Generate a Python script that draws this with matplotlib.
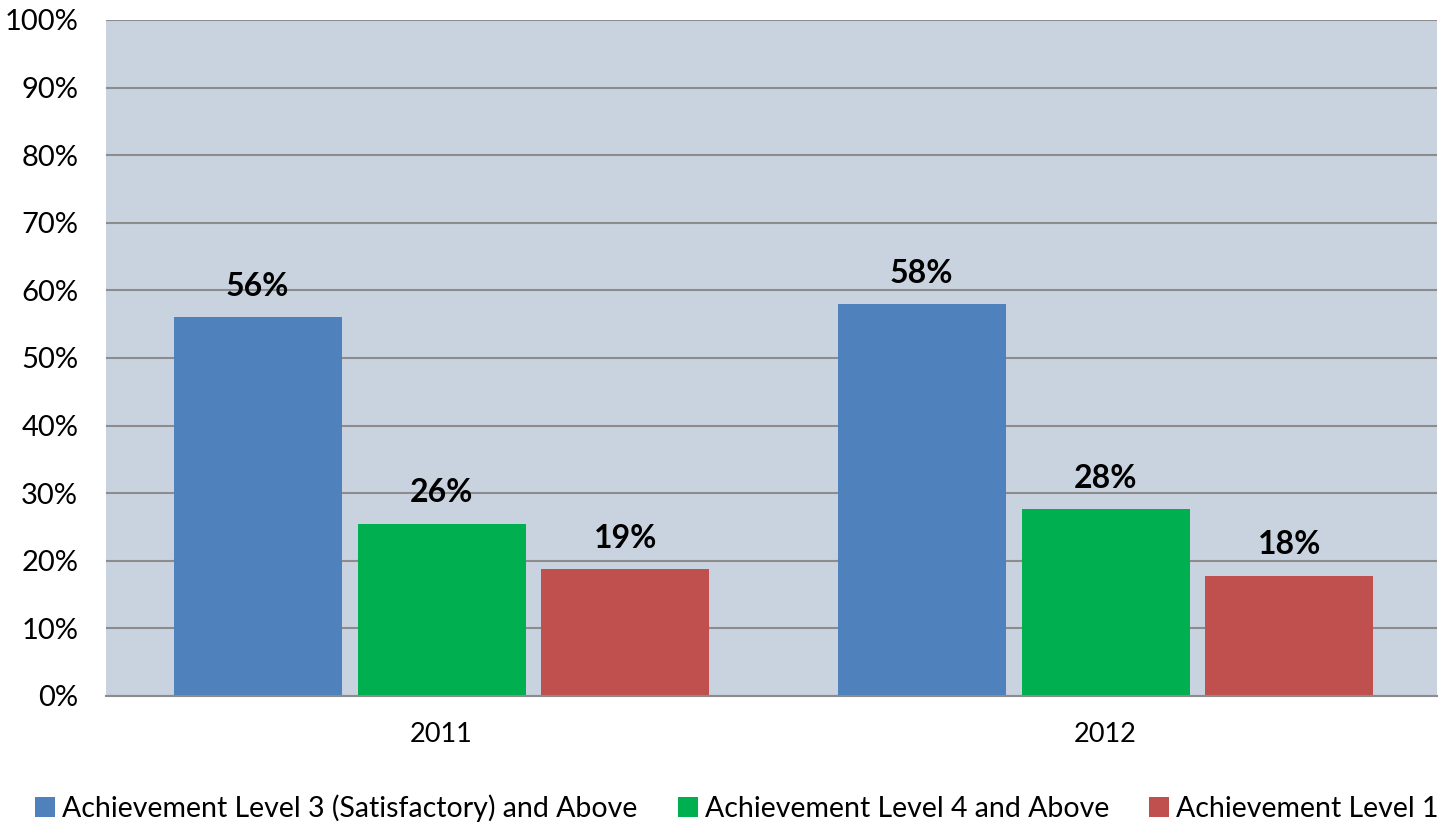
import matplotlib
matplotlib.use("Agg")
import matplotlib.pyplot as plt
import numpy as np

plt.rcParams['font.family'] = ['Lato', 'DejaVu Sans']

years = ["2011", "2012"]
series_names = ["Achievement Level 3 (Satisfactory) and Above",
                "Achievement Level 4 and Above",
                "Achievement Level 1"]
level3 = [56.1, 58.0]
level4 = [25.5, 27.7]
level1 = [18.8, 17.8]
labels3 = ["56%", "58%"]
labels4 = ["26%", "28%"]
labels1 = ["19%", "18%"]
colors = ["#4F81BD", "#00B050", "#C0504D"]

fig = plt.figure(figsize=(14.42, 8.32), dpi=100)
ax = fig.add_axes([106/1442, 1 - 696/832, (1437-106)/1442, (696-20)/832])
ax.set_facecolor("#C9D3DF")

x = np.arange(len(years))
step = 0.277
width = 0.253
data = [level3, level4, level1]
labs = [labels3, labels4, labels1]
handles = []
for i, (vals, lab, c, name) in enumerate(zip(data, labs, colors, series_names)):
    pos = x + (i - 1) * step
    b = ax.bar(pos, vals, width=width, color=c, zorder=3, label=name)
    handles.append(b)
    for p, v, t in zip(pos, vals, lab):
        ax.text(p, v + 2.4, t, ha="center", va="bottom", fontsize=23,
                fontweight="bold", color="black", zorder=4)

ax.set_xlim(-0.5053, 1.4992)
ax.set_ylim(0, 100)
ax.set_yticks(np.arange(0, 101, 10))
ax.set_yticklabels([f"{v}%" for v in range(0, 101, 10)], fontsize=21)
ax.set_xticks(x)
ax.set_xticklabels(years, fontsize=19.5)
ax.tick_params(axis="both", length=0)
ax.tick_params(axis="y", pad=20)
ax.tick_params(axis="x", pad=19)
ax.yaxis.grid(True, color="#8C8C8C", linewidth=1.5, zorder=0)
ax.set_axisbelow(True)
for s in ["left", "right", "top"]:
    ax.spines[s].set_visible(False)
ax.spines["bottom"].set_color("#8C8C8C")
ax.spines["bottom"].set_linewidth(1.5)
ax.spines["bottom"].set_zorder(5)

fig.legend(handles=handles, labels=series_names, loc="center",
           bbox_to_anchor=(737/1442, 1 - 808/832), ncol=3, frameon=False,
           fontsize=20.5, handlelength=0.7, handleheight=0.7,
           handletextpad=0.25, columnspacing=1.4)

fig.savefig("out.png", dpi=100)
